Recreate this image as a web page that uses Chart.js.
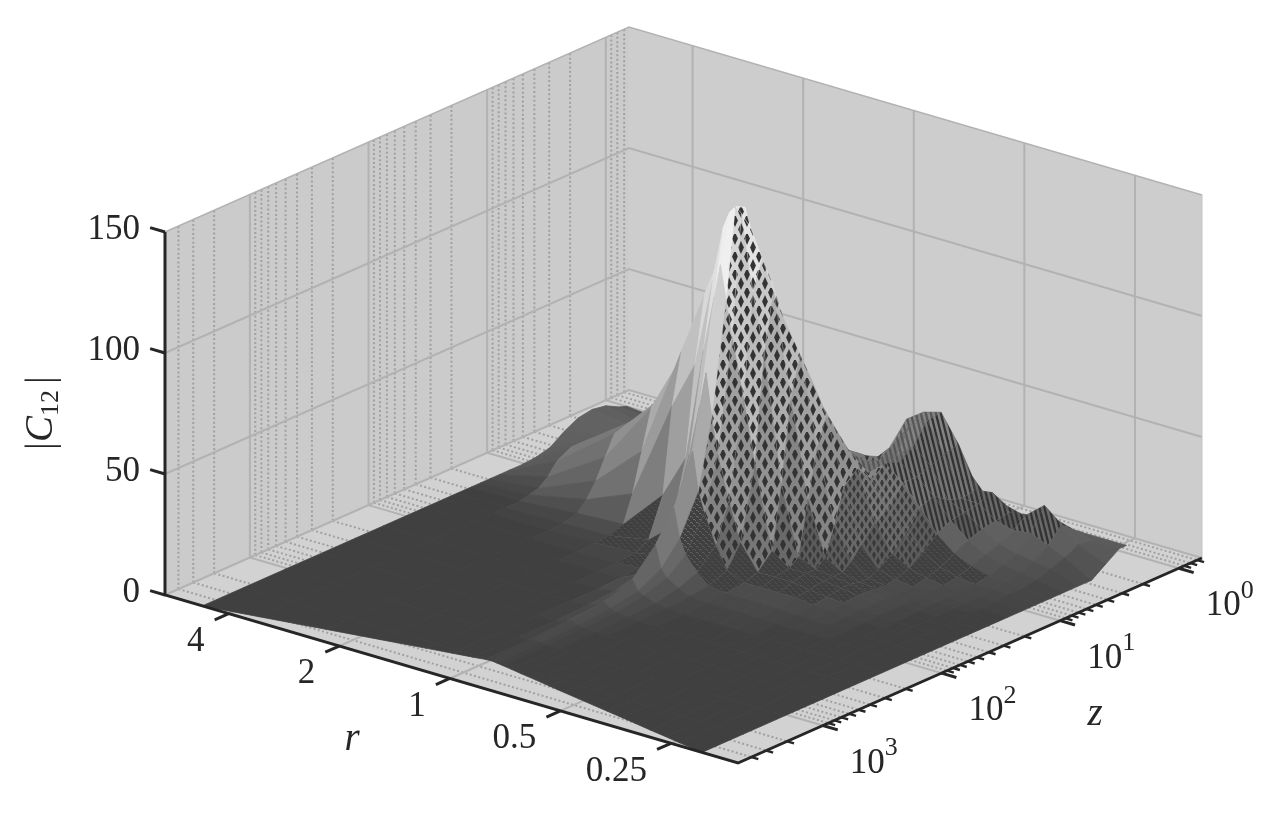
<!DOCTYPE html>
<html>
<head>
<meta charset="utf-8">
<style>
  html, body { margin: 0; padding: 0; background: #fff; }
  canvas { display: block; }
</style>
<script src="https://cdn.jsdelivr.net/npm/chart.js@4/dist/chart.umd.min.js"></script>
</head>
<body>
<canvas id="chart" width="1276" height="830"></canvas>
<script>
// ticks
const cTicks = [0, 50, 100, 150];
const rTicks = [4, 2, 1, 0.5, 0.25];
const rTickLabels = ['4', '2', '1', '0.5', '0.25'];
const zMajor = [1000, 100, 10, 1];
const zExponents = ['3', '2', '1', '0'];
const zMinor = [4000, 3000, 2000, 900, 800, 700, 600, 500, 400, 300, 200,
  90, 80, 70, 60, 50, 40, 30, 20, 9, 8, 7, 6, 5, 4, 3, 2, 0.9, 0.8, 0.7];

// surface samples: one row in cGrid per r, one value per z
const rGrid = [4.72, 3.48, 2.43, 1.82, 1.42, 1.23, 1.10, 1.03, 0.99, 0.955, 0.92, 0.857, 0.798,
  0.716, 0.643, 0.577, 0.518, 0.465, 0.418, 0.375, 0.337, 0.302, 0.271, 0.244, 0.206];
const zGrid = [5190, 2310, 1030, 500, 266, 155, 99, 69, 48, 37, 28, 23.4, 19.5, 16.3, 13.6,
  10.4, 7.94, 6.05, 4.62, 3.53, 2.69, 2.06, 1.57, 1.37];
// largest z reached for each r (the notched front edge)
const zEnd = [5190, 4450, 3700, 3190, 2810, 2610, 2470, 2380, 2355, 2400, 2440, 2530, 2630,
  2770, 2930, 3100, 3270, 3450, 3640, 3840, 4050, 4290, 4520, 4780, 5190];
const cGrid = [
  [0,0,0,0,0,0,0,0,0,0,0,0,0,0,0,0,0.5,2,6,9,10,9,6,5],
  [0,0,0,0,0,0,0,0,0,0,0,1,2,5,10,13,13,12,10,8,7,5,4,3],
  [0,0,0,0,0,0,0,0,0,0.5,2,6,12,20,28,30,28,22,14,9,7,5,4,3],
  [0,0,0,0,0,0,0,0,0.5,1,3,14,30,46,48,44,34,24,15,9,6,4,3,2],
  [0,0,0,0,0,0,0,0.5,1,4,20,55,76,78,72,56,38,24,15,9,6,4,3,2],
  [0,0,0,0,0,0,0.5,1,3,12,38,75,102,104,92,70,46,28,17,10,14,16,12,8],
  [0,0,0,0,0.5,1.5,4,8,18,44,85,112,122,118,104,80,54,34,22,16,16,19,14,9],
  [0,0,0,1,2,4,9,18,34,66,108,135,136,126,110,86,58,38,24,18,18,20,15,10],
  [0,0,1,2,4,8,18,30,50,80,122,142,142,130,112,88,62,40,26,19,19,20,15,10],
  [0,0,0.5,1,2,4,9,18,34,62,108,145,143,124,106,86,62,42,28,20,19,20,15,10],
  [0,0,0,0.5,1,3,6,12,26,48,94,143,135,118,102,84,62,44,30,21,19,20,15,10],
  [0,0,0,0,0.5,1,3,6,14,30,70,112,124,113,98,80,60,44,30,22,20,21,16,11],
  [0,0,0,0,0,0.5,1,2,5,14,44,88,112,100,88,72,56,42,30,23,23,26,18,12],
  [0,0,0,0,0,0,0.5,1,2,4,10,36,70,86,76,60,46,36,30,28,32,40,24,14],
  [0,0,0,0,0,0,0.5,1,2,4,5,8,30,50,61,50,38,30,28,32,42,45,26,14],
  [0,0,0,0,0,0,0.5,1,2,4,5,5,8,20,34,39,32,36,34,38,46,47,26,13],
  [0,0,0,0,0,0,0.5,1,2,3,4,4,4,7,12,19,22,30,30,32,34,36,20,10],
  [0,0,0,0,0,0,0,0.5,1,2,3,3,2,2,4,8,14,22,24,20,18,19,12,8],
  [0,0,0,0,0,0,0,0.5,1,1.5,2,2,1.5,1,2,4,8,13,16,17,18,20,12,8],
  [0,0,0,0,0,0,0,0.5,0.5,1,1,1,1,1,1,2,4,7,10,12,13,14,10,7],
  [0,0,0,0,0,0,0,0,0,0.5,0.5,0.5,1,1,1,1,2,4,6,8,11,15,10,7],
  [0,0,0,0,0,0,0,0,0,0,0,0,0.5,0.5,1,1,1,2,4,6,12,21,12,8],
  [0,0,0,0,0,0,0,0,0,0,0,0,0,0,0.5,0.5,1,2,3,5,9,15,10,8],
  [0,0,0,0,0,0,0,0,0,0,0,0,0,0,0,0.5,1,1,2,4,6,9,8,8],
  [0,0,0,0,0,0,0,0,0,0,0,0,0,0,0,0,0,0,0,0,0,4,8,8]
];

// the 3d box flattened onto the chart's two linear scales
const rPos = r => 0.497 - 0.193 * Math.log2(r);
const zPos = z => 0.95 - 0.2557 * Math.log10(z);
const project = (a, b, c) => ({
  x: 165 + 573 * a + 464 * b,
  y: 595 + 168 * a - 205 * b - 2.42 * c
});

const gray = c => {
  const g = Math.round(64 + 191 * Math.pow(Math.min(c, 150) / 150, 0.6));
  return `rgb(${g},${g},${g})`;
};

// mesh textures of the dense surface lines, cached by grey level
const patterns = {};
function makeTile(w, h, draw) {
  const tile = document.createElement('canvas');
  tile.width = w;
  tile.height = h;
  draw(tile.getContext('2d'));
  return tile.getContext('2d').createPattern(tile, 'repeat');
}
function cached(kind, c, draw) {
  const level = Math.round(Math.pow(Math.min(c, 150) / 150, 0.6) * 14);
  const key = kind + level;
  if (!patterns[key]) patterns[key] = draw(gray(150 * Math.pow(level / 14, 1 / 0.6)));
  return patterns[key];
}
const diamond = (t, x, y, hw, hh) => {
  t.beginPath();
  t.moveTo(x, y - hh);
  t.lineTo(x + hw, y);
  t.lineTo(x, y + hh);
  t.lineTo(x - hw, y);
  t.closePath();
  t.fill();
};
const meshPattern = c => cached('mesh', c, col => makeTile(12, 18, t => {
  t.fillStyle = col;
  t.fillRect(0, 0, 12, 18);
  t.fillStyle = '#333';
  diamond(t, 3, 4.5, 2.9, 6.5);
  diamond(t, 9, 13.5, 2.9, 6.5);
  diamond(t, 9, -4.5, 2.9, 6.5);
}));
const smallMesh = c => cached('small', c, col => makeTile(8, 12, t => {
  t.fillStyle = col;
  t.fillRect(0, 0, 8, 12);
  t.fillStyle = '#383838';
  diamond(t, 2, 3, 1.9, 4.2);
  diamond(t, 6, 9, 1.9, 4.2);
  diamond(t, 6, -3, 1.9, 4.2);
}));
const finePattern = c => cached('fine', c, col => makeTile(6, 6, t => {
  t.fillStyle = '#404040';
  t.fillRect(0, 0, 6, 6);
  t.fillStyle = col;
  t.fillRect(0, 0, 2, 1);
  t.fillRect(3, 3, 2, 1);
  t.fillRect(2, 1, 1, 1);
  t.fillRect(5, 4, 1, 1);
}));
const stripeTile = (col, base) => makeTile(5, 20, t => {
  t.fillStyle = base;
  t.fillRect(0, 0, 5, 20);
  t.strokeStyle = col;
  t.lineWidth = 2.6;
  for (let s = -5; s <= 5; s += 5) {
    t.beginPath();
    t.moveTo(s, 0);
    t.lineTo(s + 5, 20);
    t.stroke();
  }
});
const stripePattern = c => cached('stripe', c, col => stripeTile(col, '#333'));
const softStripe = c => cached('soft', c, col => stripeTile(col, '#565656'));

const datasets = [];
const addLine = (pts, color, width, dash) => datasets.push({
  data: pts, showLine: true, pointRadius: 0, borderColor: color, borderWidth: width,
  borderDash: dash || [], fill: false, borderCapStyle: 'butt'
});
const addFace = (pts, fillStyle, edge, width) => datasets.push({
  data: pts, showLine: true, pointRadius: 0, fill: 'shape', backgroundColor: fillStyle,
  borderColor: edge, borderWidth: width
});
const closed = pts => pts.concat([pts[0]]);

const wallTop = cTicks[cTicks.length - 1];
const gridCol = '#b2b2b2';
const dotCol = '#a0a0a0';

// walls and floor
addFace(closed([project(0, 0, 0), project(0, 1, 0), project(0, 1, wallTop), project(0, 0, wallTop)]), '#cbcbcb', '#cbcbcb', 0);
addFace(closed([project(0, 1, 0), project(1, 1, 0), project(1, 1, wallTop), project(0, 1, wallTop)]), '#cdcdcd', '#cdcdcd', 0);
addFace(closed([project(0, 0, 0), project(1, 0, 0), project(1, 1, 0), project(0, 1, 0)]), '#d2d2d2', '#d2d2d2', 0);

// minor z grid, dotted, on the left wall and the floor
zMinor.forEach(z => {
  const b = zPos(z);
  addLine([project(0, b, 0), project(0, b, wallTop)], dotCol, 2, [2, 2.4]);
  addLine([project(0, b, 0), project(1, b, 0)], dotCol, 2, [2, 2.4]);
});
// major grid
zMajor.forEach(z => {
  const b = zPos(z);
  addLine([project(0, b, 0), project(0, b, wallTop)], gridCol, 2);
  addLine([project(0, b, 0), project(1, b, 0)], gridCol, 2);
});
rTicks.forEach(r => {
  const a = rPos(r);
  addLine([project(a, 0, 0), project(a, 1, 0)], gridCol, 2);
  addLine([project(a, 1, 0), project(a, 1, wallTop)], gridCol, 2);
});
cTicks.forEach(c => {
  addLine([project(0, 0, c), project(0, 1, c), project(1, 1, c)], gridCol, c === wallTop ? 1.4 : 2);
});
addLine([project(1, 1, 0), project(1, 1, wallTop)], '#c4c4c4', 1);

// surface, painted from the back corner forwards
const cellB = (j, i) => zPos(Math.min(zGrid[i], zEnd[j]));
for (let i = zGrid.length - 2; i >= 0; i--) {
  for (let j = 0; j < rGrid.length - 1; j++) {
    const corners = [[j, i], [j + 1, i], [j + 1, i + 1], [j, i + 1]];
    const pts = corners.map(([cj, ci]) => project(rPos(rGrid[cj]), cellB(cj, ci), cGrid[cj][ci]));
    const vals = corners.map(([cj, ci]) => cGrid[cj][ci]);
    const avg = vals.reduce((s, v) => s + v, 0) / 4;
    const a = rPos(rGrid[j]);
    const b = zPos(zGrid[i]);
    let face = gray(avg);
    let edge = gray(avg);
    let width = 0.8;
    if (a >= 0.5) {
      if (b >= 0.72 && a >= 0.56) {
        if (avg > 12) {
          face = a < 0.65 ? softStripe(avg * 0.6) : stripePattern(avg * 0.6);
          edge = gray(avg * 0.4);
          width = 0.3;
        } else {
          face = gray(avg * 0.7);
          edge = face;
        }
      } else if (avg > 14 && b >= 0.48) {
        if (a >= 0.62) {
          face = smallMesh(avg * 0.55);
          edge = gray(avg * 0.55);
        } else {
          face = meshPattern(avg * 0.85);
        }
        width = 0.3;
      } else if (avg > 8 && b >= 0.5) {
        face = smallMesh(avg * 0.6);
        edge = gray(avg * 0.6);
        width = 0.3;
      } else if (avg > 1.5 && b >= 0.44) {
        face = finePattern(avg * 0.4);
        edge = '#404040';
        width = 0.3;
      }
    } else if (avg > 1 && avg < 14 && a > 0.25 && b > 0.4 && b < 0.7) {
      face = finePattern(avg * 0.5);
      edge = '#404040';
      width = 0.3;
    }
    addFace(closed(pts), face, edge, width);
  }
}

// axes and ticks
const axisCol = '#262626';
addLine([project(0, 0, wallTop), project(0, 0, 0), project(1, 0, 0), project(1, 1, 0)], axisCol, 3);
cTicks.forEach(c => addLine([project(0, 0, c), project(-0.026, 0, c)], axisCol, 3));
rTicks.forEach(r => addLine([project(rPos(r), 0, 0), project(rPos(r), -0.03, 0)], axisCol, 3));
zMajor.forEach(z => addLine([project(1, zPos(z), 0), project(1.026, zPos(z), 0)], axisCol, 3));
zMinor.forEach(z => addLine([project(1, zPos(z), 0), project(1.012, zPos(z), 0)], axisCol, 2.4));

datasets.forEach((d, i) => { d.order = -i; });

const serif = '"Liberation Serif", "Times New Roman", serif';
const tickText = {
  id: 'tickText',
  afterDraw(chart) {
    const {ctx, scales} = chart;
    const at = p => ({x: scales.x.getPixelForValue(p.x), y: scales.y.getPixelForValue(p.y)});
    const put = (s, x, y, font, align) => {
      ctx.font = font;
      ctx.textAlign = align || 'left';
      ctx.fillText(s, x, y);
    };
    ctx.save();
    ctx.fillStyle = '#262626';
    ctx.textBaseline = 'middle';
    cTicks.forEach(c => {
      const p = at(project(0, 0, c));
      put(String(c), p.x - 25, p.y - 2, `35px ${serif}`, 'right');
    });
    rTicks.forEach((r, k) => {
      const p = at(project(rPos(r), 0, 0));
      put(rTickLabels[k], p.x - 24, p.y + 28, `35px ${serif}`, 'right');
    });
    zMajor.forEach((z, k) => {
      const p = at(project(1, zPos(z), 0));
      put('10', p.x + 27, p.y + 38, `35px ${serif}`);
      put(zExponents[k], p.x + 62, p.y + 23, `26px ${serif}`);
    });
    put('r', 352, 740, `italic 39px ${serif}`, 'center');
    put('z', 1095, 715, `italic 39px ${serif}`, 'center');

    // |C12| runs up the left side
    ctx.translate(52, 450);
    ctx.rotate(-Math.PI / 2);
    ctx.textBaseline = 'alphabetic';
    put('|', 0, 0, `39px ${serif}`);
    put('C', 8, 0, `italic 39px ${serif}`);
    put('12', 34, 6, `26px ${serif}`);
    put('|', 66, 0, `39px ${serif}`);
    ctx.restore();
  }
};

new Chart(document.getElementById('chart'), {
  type: 'scatter',
  data: {datasets},
  plugins: [tickText],
  options: {
    responsive: false,
    animation: false,
    events: [],
    layout: {padding: 0},
    elements: {line: {tension: 0}},
    scales: {
      x: {type: 'linear', min: 0, max: 1276, display: false},
      y: {type: 'linear', min: 0, max: 830, reverse: true, display: false}
    },
    plugins: {legend: {display: false}, tooltip: {enabled: false}, title: {display: false}}
  }
});
</script>
</body>
</html>
